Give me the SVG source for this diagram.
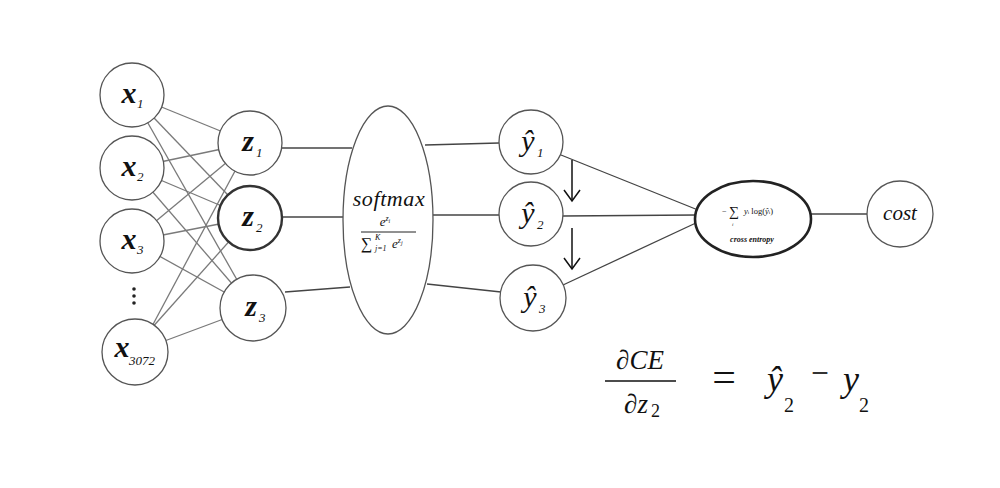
<svg xmlns="http://www.w3.org/2000/svg" width="1000" height="488" viewBox="0 0 1000 488">
<style>
.n{fill:#fff;stroke:#555;stroke-width:1.3}
.e{stroke:#7a7a7a;stroke-width:1.3;fill:none}
.c{stroke:#444;stroke-width:1.3;fill:none}
.lb{font-family:"Liberation Serif","DejaVu Serif",serif;font-style:italic;fill:#111}
.big{font-size:30px;font-weight:bold}
.sub{font-size:13px}
.m{font-family:"Liberation Serif","DejaVu Serif",serif;fill:#111}
.ah{fill:none;stroke:#111;stroke-width:1.5}
</style>
<rect width="1000" height="488" fill="#fff"/>
<g id="connectors">
<line class="e" x1="132" y1="95" x2="250" y2="143"/>
<line class="e" x1="132" y1="95" x2="250" y2="218"/>
<line class="e" x1="132" y1="95" x2="253" y2="308"/>
<line class="e" x1="132" y1="168" x2="250" y2="143"/>
<line class="e" x1="132" y1="168" x2="250" y2="218"/>
<line class="e" x1="132" y1="168" x2="253" y2="308"/>
<line class="e" x1="132" y1="241" x2="250" y2="143"/>
<line class="e" x1="132" y1="241" x2="250" y2="218"/>
<line class="e" x1="132" y1="241" x2="253" y2="308"/>
<line class="e" x1="150" y1="330" x2="250" y2="143"/>
<line class="e" x1="150" y1="330" x2="250" y2="218"/>
<line class="e" x1="135" y1="352" x2="253" y2="308"/>
<line class="c" x1="282" y1="148" x2="352" y2="148"/>
<line class="c" x1="282" y1="217" x2="345" y2="217"/>
<line class="c" x1="285" y1="292" x2="350" y2="287"/>
<line class="c" x1="425" y1="145" x2="499" y2="143"/>
<line class="c" x1="433" y1="215" x2="499" y2="215"/>
<line class="c" x1="427" y1="284" x2="501" y2="292"/>
<line class="c" x1="561" y1="155" x2="698" y2="210"/>
<line class="c" x1="563" y1="216" x2="696" y2="215"/>
<line class="c" x1="563" y1="285" x2="698" y2="222"/>
<line class="c" x1="811" y1="214" x2="868" y2="214"/>
<line x1="572" y1="160" x2="572" y2="201" stroke="#111" stroke-width="1.5"/>
<path class="ah" d="M564,190 L572,201 L580,190"/>
<line x1="572" y1="228" x2="572" y2="269" stroke="#111" stroke-width="1.5"/>
<path class="ah" d="M564,258 L572,269 L580,258"/>
</g>
<g id="x1"><circle class="n" cx="132" cy="95" r="32"/><text class="lb big" x="129" y="103" text-anchor="middle">x</text><text class="lb sub" x="137" y="108">1</text></g>
<g id="x2"><circle class="n" cx="132" cy="168" r="32"/><text class="lb big" x="129" y="176" text-anchor="middle">x</text><text class="lb sub" x="137" y="181">2</text></g>
<g id="x3"><circle class="n" cx="132" cy="241" r="32"/><text class="lb big" x="129" y="249" text-anchor="middle">x</text><text class="lb sub" x="137" y="254">3</text></g>
<g id="dots"><circle cx="134" cy="289" r="1.8" fill="#222"/><circle cx="134" cy="296" r="1.8" fill="#222"/><circle cx="134" cy="303" r="1.8" fill="#222"/></g>
<g id="x3072"><circle class="n" cx="135" cy="352" r="33"/><text class="lb big" x="122" y="357" text-anchor="middle">x</text><text class="lb sub" x="129" y="365">3072</text></g>
<g id="z1"><circle class="n" cx="250" cy="143" r="32"/><text class="lb big" x="248" y="151" text-anchor="middle">z</text><text class="lb sub" x="256" y="157">1</text></g>
<g id="z2"><circle cx="250" cy="218" r="32" fill="#fff" stroke="#333" stroke-width="2.4"/><text class="lb big" x="248" y="226" text-anchor="middle">z</text><text class="lb sub" x="256" y="232">2</text></g>
<g id="z3"><circle class="n" cx="253" cy="308" r="33"/><text class="lb big" x="251" y="316" text-anchor="middle">z</text><text class="lb sub" x="259" y="322">3</text></g>
<g id="softmax"><ellipse class="n" cx="388" cy="220" rx="45" ry="114"/>
<text class="lb" x="389" y="206" font-size="22" letter-spacing="0.6" text-anchor="middle">softmax</text>
<text class="lb" x="385" y="226" font-size="13" text-anchor="middle">e<tspan font-size="8" dy="-5">z</tspan><tspan font-size="6" dy="2">i</tspan></text>
<line x1="361" y1="232" x2="416" y2="232" stroke="#222" stroke-width="1"/>
<text class="m" x="361" y="249" font-size="16">∑</text>
<text class="lb" x="375" y="240" font-size="8">K</text>
<text class="lb" x="375" y="251" font-size="8">j=1</text>
<text class="lb" x="392" y="248" font-size="13">e<tspan font-size="8" dy="-5">z</tspan><tspan font-size="6" dy="2">j</tspan></text>
</g>
<g id="yhat1"><circle class="n" cx="531" cy="142" r="32"/><text class="lb" x="528" y="151" font-size="30" text-anchor="middle">ŷ</text><text class="lb sub" x="537" y="157">1</text></g>
<g id="yhat2"><circle class="n" cx="531" cy="214" r="32"/><text class="lb" x="528" y="223" font-size="30" text-anchor="middle">ŷ</text><text class="lb sub" x="537" y="229">2</text></g>
<g id="yhat3"><circle class="n" cx="533" cy="298" r="33"/><text class="lb" x="530" y="307" font-size="30" text-anchor="middle">ŷ</text><text class="lb sub" x="539" y="313">3</text></g>
<g id="crossentropy"><ellipse cx="753" cy="219" rx="58" ry="38" fill="#fff" stroke="#222" stroke-width="2.6"/>
<text class="m" x="722" y="214" font-size="8" fill="#555">−</text>
<text class="m" x="729" y="216" font-size="14" fill="#555">∑</text>
<text class="lb" x="732" y="226" font-size="5" fill="#555">i</text>
<text class="m" x="744" y="214" font-size="8.5" fill="#555"><tspan font-style="italic">y</tspan><tspan font-size="5">i</tspan> log(<tspan font-style="italic">ŷ</tspan><tspan font-size="5">i</tspan>)</text>
<text class="lb" x="752" y="242" font-size="8" font-weight="bold" text-anchor="middle">cross entropy</text>
</g>
<g id="cost"><circle class="n" cx="900" cy="214" r="33"/><text class="lb" x="900" y="220" font-size="21" text-anchor="middle">cost</text></g>
<g id="equation">
<text class="m" x="640" y="369" font-size="27" text-anchor="middle">∂<tspan font-style="italic">CE</tspan></text>
<line x1="605" y1="381" x2="676" y2="381" stroke="#111" stroke-width="1.5"/>
<text class="m" x="636" y="413" font-size="27" text-anchor="middle">∂<tspan font-style="italic">z</tspan></text>
<text class="m" x="651" y="417" font-size="18">2</text>
<text class="m" x="724" y="391" font-size="42" text-anchor="middle" font-family="Liberation Sans">=</text>
<text class="lb" x="775" y="391" font-size="36" text-anchor="middle" fill="#222">ŷ</text>
<text class="m" x="784" y="412" font-size="20">2</text>
<text x="820" y="383" font-size="30" text-anchor="middle" font-family="Liberation Sans" fill="#333">−</text>
<text class="lb" x="851" y="391" font-size="36" text-anchor="middle" fill="#222">y</text>
<text class="m" x="859" y="412" font-size="20">2</text>
</g>
</svg>
